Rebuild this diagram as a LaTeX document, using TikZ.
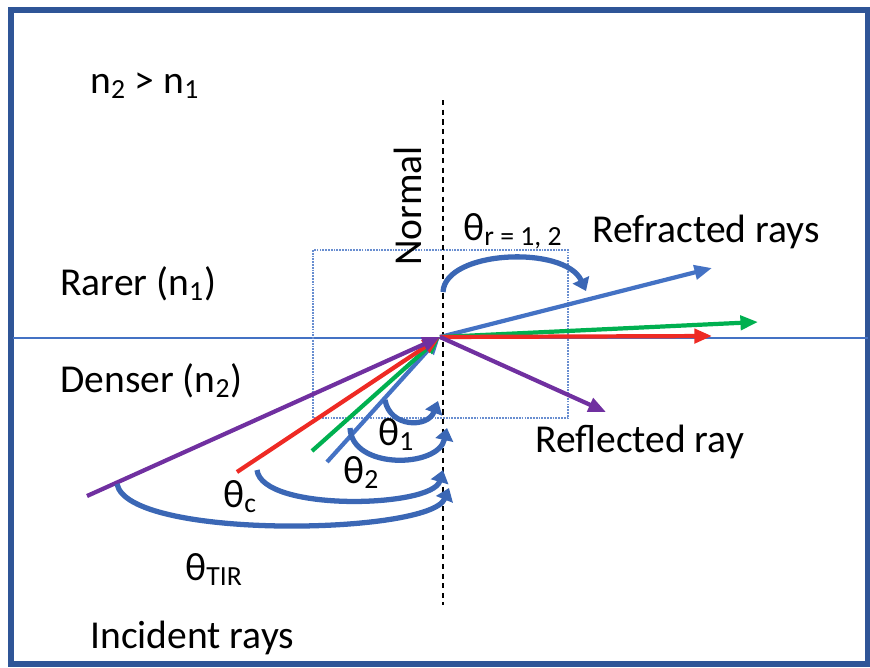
\documentclass[tikz,border=0pt]{standalone}
\usepackage{fontspec}
\setmainfont{Carlito}
\usetikzlibrary{arrows.meta}
\definecolor{frameblue}{HTML}{2F5597}
\definecolor{rayblue}{HTML}{4472C4}
\definecolor{arcblue}{HTML}{3B67B5}
\definecolor{raygreen}{HTML}{00B050}
\definecolor{rayred}{HTML}{EE2A24}
\definecolor{raypurple}{HTML}{7030A0}
\begin{document}
\begin{tikzpicture}[x=0.02cm,y=-0.02cm,
  ray/.style={line width=2.4pt,-{Triangle[length=10pt,width=8pt]}},
  angarc/.style={draw=arcblue,line width=3pt,-{Triangle[length=7pt,width=10pt]}},
  lbl/.style={font=\fontsize{22.5}{27}\selectfont,inner sep=0pt}]
\useasboundingbox (0,0) rectangle (870,667);
\draw[frameblue,line width=3pt] (11,10) rectangle (868,664);

\coordinate (O) at (440,337);
\coordinate (W) at (13,338);
\coordinate (E) at (868,338);
\coordinate (N1) at (443,100);
\coordinate (N2) at (443,605);
\coordinate (P1) at (87,496);
\coordinate (R1) at (237,472);
\coordinate (G1) at (312,451);
\coordinate (B1) at (327,462);
\coordinate (B2) at (712,268);
\coordinate (G2) at (758,322);
\coordinate (R2) at (712,336);
\coordinate (P2) at (606,412);

\draw[rayblue,line width=0.9pt] (W) -- (E);
\draw[rayblue!80,line width=0.6pt,dash pattern=on 1pt off 0.6pt] (313,250) rectangle (568,418);
\draw[line width=1.1pt,dash pattern=on 3pt off 2.5pt] (N1) -- (N2);

\draw[ray,rayblue] (B1) -- (O);
\draw[ray,raygreen] (G1) -- (O);
\draw[ray,rayred] (R1) -- (O);
\draw[ray,raypurple] (P1) -- (O);
\draw[ray,rayblue] (O) -- (B2);
\draw[ray,raygreen] (O) -- (G2);
\draw[ray,rayred] (O) -- (R2);
\draw[ray,raypurple] (O) -- (P2);

\draw[angarc] (385,400) .. controls (390,428) and (428,428) .. (438,401);
\draw[angarc] (350,428) .. controls (352,470) and (438,468) .. (447,428);
\draw[angarc] (257,470) .. controls (262,512) and (432,508) .. (443,470);
\draw[angarc] (117,484) .. controls (128,540) and (430,535) .. (449,488);
\draw[angarc] (443,292) .. controls (445,250) and (565,245) .. (586,291);

\node[lbl,anchor=base west] (ineq) at (90,93) {n\textsubscript{2} > n\textsubscript{1}};
\node[lbl,rotate=90] (normal) at (408,206) {Normal};
\node[lbl,anchor=base west] (thr) at (463,240) {θ\textsubscript{r = 1, 2}};
\node[lbl,anchor=base west] (refr) at (592,242) {Refracted rays};
\node[lbl,anchor=base west] (rarer) at (60,295) {Rarer (n\textsubscript{1})};
\node[lbl,anchor=base west] (denser) at (60,392) {Denser (n\textsubscript{2})};
\node[lbl,anchor=base west] (refl) at (535,452) {Reflected ray};
\node[lbl,anchor=base west] (th1) at (378,445) {θ\textsubscript{1}};
\node[lbl,anchor=base west] (th2) at (343,483) {θ\textsubscript{2}};
\node[lbl,anchor=base west] (thc) at (223,507) {θ\textsubscript{c}};
\node[lbl,anchor=base west] (thtir) at (185,580) {θ\textsubscript{TIR}};
\node[lbl,anchor=base west] (inc) at (90,648) {Incident rays};
\end{tikzpicture}
\end{document}
